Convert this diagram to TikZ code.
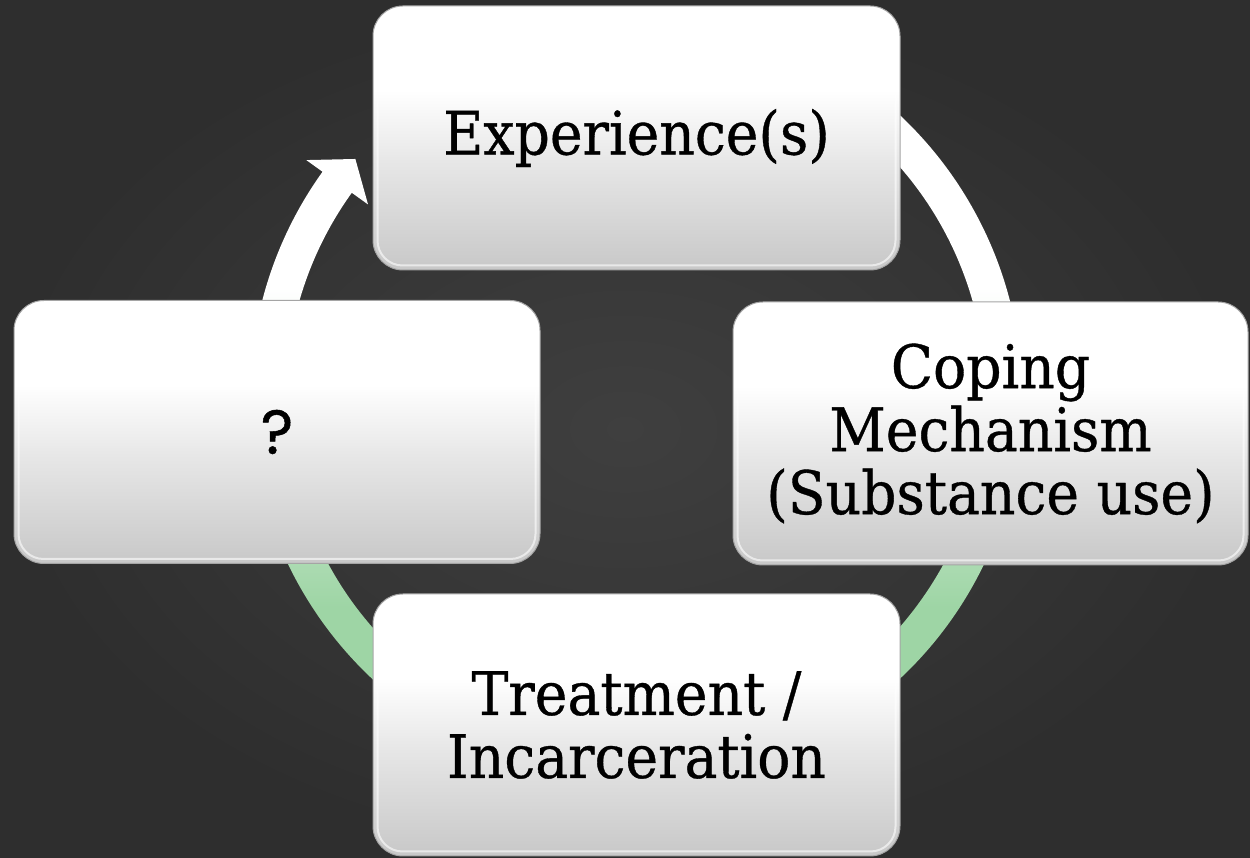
\documentclass[tikz,border=0pt]{standalone}
\usepackage{fontspec}
\setmainfont[FakeStretch=0.92,FakeBold=0.6]{DejaVu Serif}
\newfontfamily\qfont[FakeBold=0.8]{Poppins}
\usetikzlibrary{calc}
\definecolor{ringgreen}{RGB}{158,213,165}
\definecolor{boxbot}{RGB}{200,200,200}
\definecolor{boxmid}{RGB}{230,230,230}
\definecolor{boxedge}{RGB}{165,165,165}
\definecolor{bgin}{RGB}{63,63,63}
\definecolor{bgout}{RGB}{46,46,46}
\pgfdeclareverticalshading{ringshade}{100bp}{color(0bp)=(ringgreen); color(38bp)=(ringgreen); color(58bp)=(white); color(100bp)=(white)}
\pgfdeclareverticalshading{boxshade}{100bp}{color(0bp)=(boxbot); color(25bp)=(boxbot); color(45bp)=(boxmid); color(59bp)=(white); color(100bp)=(white)}
\begin{document}
\begin{tikzpicture}[x=1pt, y=1pt,
  cyclebox/.style={shade, shading=boxshade, draw=boxedge, line width=1pt,
    rounded corners=30pt, inner sep=0pt, align=center,
    font=\fontsize{60}{63}\selectfont, text=black},
  hilite/.style={white, line width=2pt, opacity=0.6, rounded corners=25pt}]
\useasboundingbox (0,0) rectangle (1250,858);
\shade[inner color=bgin, outer color=bgout] (0,0) rectangle (1250,858);
% ring with arrowhead
\coordinate (C) at (636,461);
\shade[shading=ringshade]
  ($(C)+(80:386pt)$) arc[start angle=80, end angle=-215.7, radius=386pt]
  -- ($(C)+(144.3:406pt)$) -- ($(C)+(139.7:368pt)$) -- ($(C)+(144.3:330pt)$)
  -- ($(C)+(144.3:350pt)$) arc[start angle=-215.7, end angle=80, radius=350pt]
  -- cycle;
% boxes
\node[cyclebox, minimum width=527pt, minimum height=264pt] (exp) at (636.5,720) {Experience(s)};
\node[cyclebox, minimum width=515pt, minimum height=263pt] (cop) at (990.5,424.5) {Coping\\Mechanism\\(Substance use)};
\node[cyclebox, minimum width=527pt, minimum height=262pt] (tre) at (636.5,133) {Treatment /\\Incarceration};
\node[cyclebox, minimum width=526pt, minimum height=263pt, font=\qfont\fontsize{62}{63}\selectfont] (que) at (277,426) {?};
\foreach \n in {exp,cop,tre,que}
  \draw[hilite] ([shift={(5pt,5pt)}]\n.south west) rectangle ([shift={(-5pt,-5pt)}]\n.north east);
\end{tikzpicture}
\end{document}
